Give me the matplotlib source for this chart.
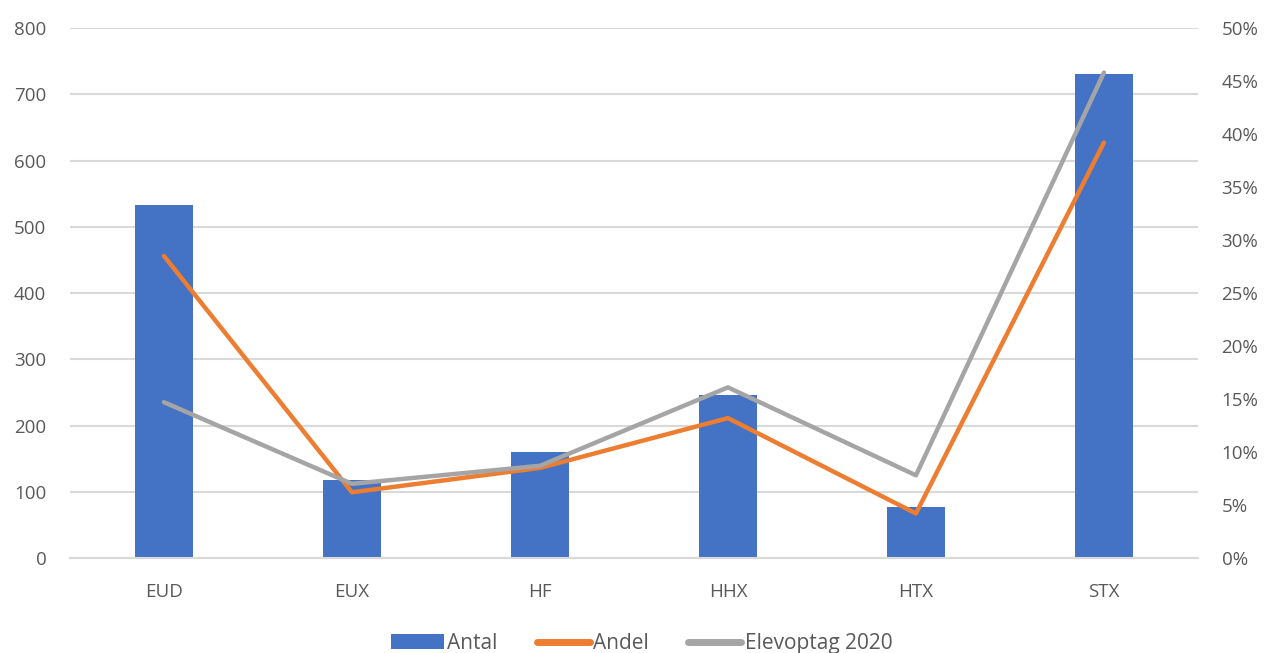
import numpy as np
import matplotlib.pyplot as plt
from matplotlib.ticker import PercentFormatter

categories = ['EUD', 'EUX', 'HF', 'HHX', 'HTX', 'STX']
antal = [533, 118, 160, 246, 77, 730]
andel = [28.5, 6.2, 8.5, 13.2, 4.2, 39.2]
elevoptag_2020 = [14.7, 7.0, 8.7, 16.1, 7.8, 45.8]

plt.rcParams['font.family'] = ['Open Sans', 'DejaVu Sans']
text_color = '#595959'
grid_color = '#d9d9d9'

fig = plt.figure(figsize=(12.65, 6.53), dpi=100)
ax = fig.add_axes([0.0553, 0.1455, 0.8917, 0.8115])
ax2 = ax.twinx()

x = np.arange(len(categories))
bars = ax.bar(x, antal, width=0.31, color='#4472c4', label='Antal', zorder=2)
ax.set_xlim(-0.5, len(categories) - 0.5)
ax.set_ylim(0, 800)
ax.set_yticks(range(0, 801, 100))
ax.yaxis.grid(True, color=grid_color, linewidth=1.5, zorder=0)
ax.set_axisbelow(True)

l1, = ax2.plot(x, andel, color='#ed7d31', linewidth=3.2, label='Andel',
               solid_capstyle='round', solid_joinstyle='round')
l2, = ax2.plot(x, elevoptag_2020, color='#a5a5a5', linewidth=3.2, label='Elevoptag 2020',
               solid_capstyle='round', solid_joinstyle='round')
ax2.set_ylim(0, 50)
ax2.set_yticks(range(0, 51, 5))
ax2.yaxis.set_major_formatter(PercentFormatter(decimals=0))

ax.set_xticks(x)
ax.set_xticklabels(categories)

for a in (ax, ax2):
    for s in a.spines.values():
        s.set_visible(False)
    a.tick_params(length=0, labelsize=13.5, colors=text_color)
ax.tick_params(axis='x', pad=18)
ax.tick_params(axis='y', pad=17)
ax2.tick_params(axis='y', pad=17)
ax.spines['bottom'].set_visible(True)
ax.spines['bottom'].set_color(grid_color)
ax.spines['bottom'].set_linewidth(1.5)

fig.legend(handles=[bars, l1, l2], loc='lower center', ncol=3, frameon=False,
           bbox_to_anchor=(0.507, -0.03), fontsize=15, labelcolor=text_color,
           handlelength=2.55, handletextpad=0.15, columnspacing=1.9)
for h in fig.legends[0].get_lines():
    h.set_linewidth(5)

fig.savefig('out.png', dpi=100)
